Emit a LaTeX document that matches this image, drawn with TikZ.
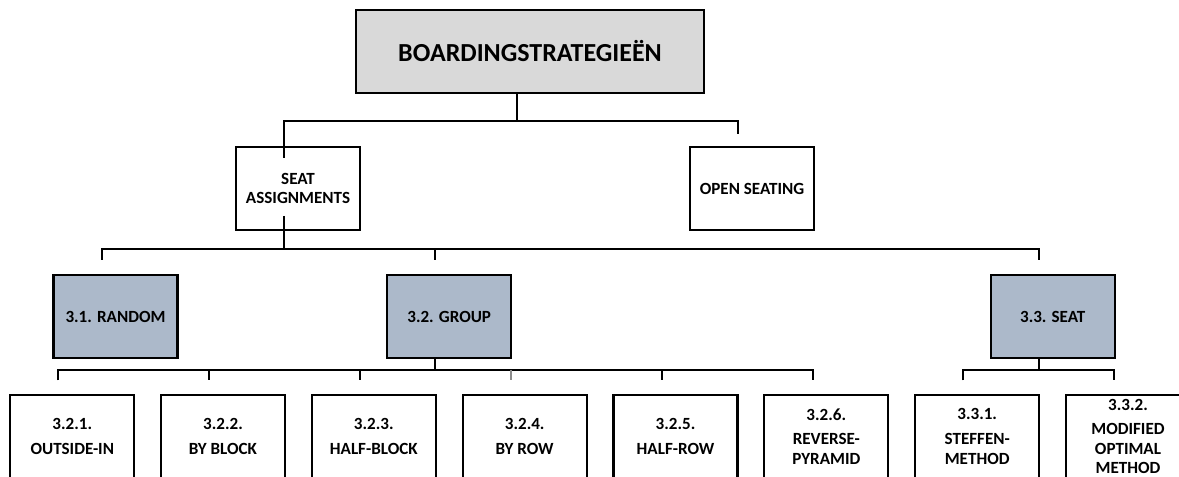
\documentclass[tikz,border=0pt]{standalone}
\usepackage{fontspec}
\setmainfont{Carlito}
\definecolor{rootfill}{HTML}{D9D9D9}
\definecolor{catfill}{HTML}{ACB9CA}
\definecolor{thinline}{HTML}{8C8C8C}
\begin{document}
\begin{tikzpicture}[x=0.75pt,y=-0.75pt,
  box/.style={draw=black,line width=1.7pt,inner sep=0pt,align=center,
    minimum width=93pt,minimum height=62.25pt,
    font=\fontsize{12.8}{14.6}\selectfont\bfseries},
  rootbox/.style={box,fill=rootfill,minimum width=261pt,
    font=\fontsize{19.5}{22}\selectfont\bfseries},
  catbox/.style={box,fill=catfill},
  leafbox/.style={box,fill=white},
  link/.style={line width=1.7pt,line cap=butt,line join=miter},
  faint/.style={line width=0.8pt,draw=thinline}]
  \fill[white] (0,0) rectangle (1179,477);
  \useasboundingbox (0,0) rectangle (1179,477);
  \clip (0,0) rectangle (1179,477);

  % top level
  \node[rootbox] (root) at (530,51.5) {BOARDINGSTRATEGIEËN};

  % second level
  \node[box] (sa) at (298,188.5) {SEAT\\ASSIGNMENTS};
  \node[box] (os) at (752,188.5) {OPEN SEATING};

  % categories
  \node[catbox] (rnd)  at (115.5,316.5)  {3.1. RANDOM};
  \node[catbox] (grp)  at (449.2,316.5)  {3.2. GROUP};
  \node[catbox] (seat) at (1052.7,316.5) {3.3. SEAT};

  % methods
  \node[leafbox] (g1) at (72.3,436.5)  {3.2.1.\\[4pt]OUTSIDE-IN};
  \node[leafbox] (g2) at (223,436.5)   {3.2.2.\\[4pt]BY BLOCK};
  \node[leafbox] (g3) at (373.8,436.5) {3.2.3.\\[4pt]HALF-BLOCK};
  \node[leafbox] (g4) at (524.7,436.5) {3.2.4.\\[4pt]BY ROW};
  \node[leafbox] (g5) at (675.5,436.5) {3.2.5.\\[4pt]HALF-ROW};
  \node[leafbox] (g6) at (826.3,436.5) {3.2.6.\\[4pt]REVERSE-\\PYRAMID};
  \node[leafbox] (s1) at (977.2,436.5) {3.3.1.\\[4pt]STEFFEN-\\METHOD};
  \node[leafbox] (s2) at (1128,436.5)  {3.3.2.\\[4pt]MODIFIED\\OPTIMAL\\METHOD};

  % bus coordinates
  \coordinate (busA) at (517,121);
  \coordinate (busB) at (284,248.7);
  \coordinate (busC) at (435.3,370);
  \coordinate (busD) at (1039,370);

  % root -> second level
  \draw[link] (root.south -| busA) -- (busA);
  \draw[link] ([yshift=-9pt]sa.north -| 284,0) -- (sa.north -| 284,0) |- (busA)
              -| ([yshift=9pt]os.north -| 738,0);

  % seat assignments -> categories
  \draw[link] (284,216) -- (busB);
  \draw[link] ([yshift=10.5pt]rnd.north -| 101.7,0) |- (busB) -| ([yshift=10.5pt]seat.north -| 1039,0);
  \draw[link] (busB -| 435.3,0) -- ([yshift=10.5pt]grp.north -| 435.3,0);

  % group -> methods
  \draw[link] (grp.south -| busC) -- (busC);
  \draw[link] ([yshift=10.2pt]g1.north -| 58.3,0) |- (busC)
              -| ([yshift=10.2pt]g6.north -| 813.3,0);
  \draw[link] (busC -| 209.3,0) -- ([yshift=10.2pt]g2.north -| 209.3,0);
  \draw[link] (busC -| 360,0) -- ([yshift=10.2pt]g3.north -| 360,0);
  \draw[faint] (busC -| 511,0) -- ([yshift=10.2pt]g4.north -| 511,0);
  \draw[link] (busC -| 662,0) -- ([yshift=10.2pt]g5.north -| 662,0);

  % seat -> methods
  \draw[link] (seat.south -| busD) -- (busD);
  \draw[link] ([yshift=10.2pt]s1.north -| 963.3,0) |- (busD)
              -| ([yshift=10.2pt]s2.north -| 1114,0);
\end{tikzpicture}
\end{document}
